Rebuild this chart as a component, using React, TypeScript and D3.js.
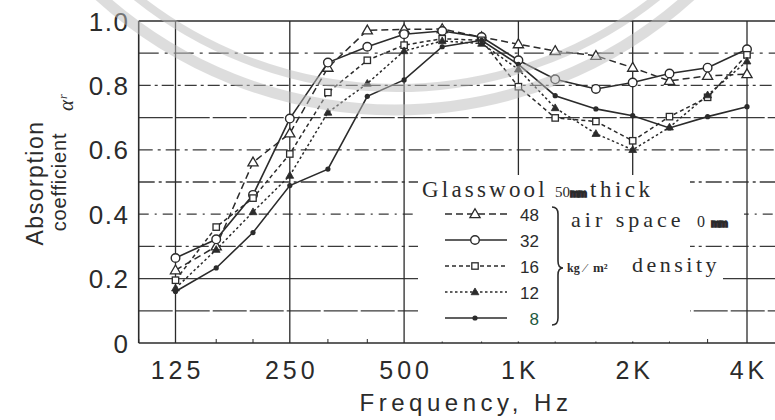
import React from "react";
import * as d3 from "d3";

// ---- data ----
const freqs = [125, 160, 200, 250, 315, 400, 500, 630, 800, 1000, 1250, 1600, 2000, 2500, 3150, 4000];
const density48 = [0.226, 0.30, 0.561, 0.651, 0.855, 0.971, 0.974, 0.975, 0.95, 0.928, 0.907, 0.892, 0.855, 0.814, 0.83, 0.835];
const density32 = [0.264, 0.322, 0.46, 0.697, 0.871, 0.92, 0.959, 0.969, 0.95, 0.878, 0.819, 0.789, 0.809, 0.837, 0.855, 0.912];
const density16 = [0.195, 0.36, 0.45, 0.587, 0.778, 0.878, 0.925, 0.945, 0.94, 0.796, 0.699, 0.688, 0.628, 0.703, 0.763, 0.895];
const density12 = [0.17, 0.29, 0.407, 0.52, 0.716, 0.806, 0.907, 0.938, 0.93, 0.85, 0.73, 0.65, 0.60, 0.67, 0.77, 0.875];
const density8 = [0.16, 0.233, 0.343, 0.489, 0.54, 0.766, 0.817, 0.92, 0.94, 0.865, 0.768, 0.727, 0.706, 0.668, 0.703, 0.734];
const seriesLabels = ["48", "32", "16", "12", "8"];
const majorFreqs = [125, 250, 500, 1000, 2000, 4000];
const majorLabels = ["125", "250", "500", "1K", "2K", "4K"];
const minorFreqs = [100, 160, 200, 315, 400, 630, 800, 1250, 1600, 2500, 3150, 5000];
const yTicks = [0, 0.2, 0.4, 0.6, 0.8, 1.0];
const yTickLabels = ["0", "0.2", "0.4", "0.6", "0.8", "1.0"];
const gridLevels = [0.1, 0.2, 0.3, 0.4, 0.5, 0.6, 0.7, 0.8, 0.9];

// ---- styles ----
const INK = "#2b2b2b";
const SANS = "'Liberation Sans', Arial, Helvetica, sans-serif";
const SERIF = "'Liberation Serif', 'Times New Roman', serif";
const gridDash: Record<string, string> = {
  "0.1": "34,3",
  "0.2": "none",
  "0.3": "16,4,3,4",
  "0.4": "10,6,2,6",
  "0.5": "16,4,3,4",
  "0.6": "14,5,3,5",
  "0.7": "34,3",
  "0.8": "12,4,3,4",
  "0.9": "20,6,3,6",
};
type Marker = "triOpen" | "circleOpen" | "squareOpen" | "triFilled" | "dotFilled";
const seriesStyle: { dash: string; marker: Marker; width: number }[] = [
  { dash: "7,4", marker: "triOpen", width: 1.5 },
  { dash: "none", marker: "circleOpen", width: 1.6 },
  { dash: "4,3", marker: "squareOpen", width: 1.5 },
  { dash: "2.5,2.5", marker: "triFilled", width: 1.5 },
  { dash: "none", marker: "dotFilled", width: 1.6 },
];

const W = 775;
const H = 420;
const x = d3.scaleLog().domain([125, 4000]).range([175.5, 747]);
const y = d3.scaleLinear().domain([0, 1]).range([343, 21]);
const xLeft = x(100);
const xRight = W;

function MarkerShape({ kind, cx, cy }: { kind: Marker; cx: number; cy: number }) {
  const tri = (s: number) =>
    `M${cx},${cy - s * 0.62} L${cx + s * 0.6},${cy + s * 0.42} L${cx - s * 0.6},${cy + s * 0.42} Z`;
  switch (kind) {
    case "triOpen":
      return <path d={tri(8.5)} fill="#fff" stroke={INK} strokeWidth={1.3} />;
    case "circleOpen":
      return <circle cx={cx} cy={cy} r={4.3} fill="#fff" stroke={INK} strokeWidth={1.4} />;
    case "squareOpen":
      return <rect x={cx - 3.2} y={cy - 3.2} width={6.4} height={6.4} fill="#fff" stroke={INK} strokeWidth={1.3} />;
    case "triFilled":
      return <path d={tri(6.5)} fill={INK} stroke={INK} strokeWidth={0.8} />;
    default:
      return <circle cx={cx} cy={cy} r={2.6} fill={INK} />;
  }
}

export default function App() {
  const allSeries = [density48, density32, density16, density12, density8];
  const line = d3
    .line<number>()
    .x((_, i) => x(freqs[i]))
    .y((v) => y(v));

  const legendRows = [214, 240, 266, 292, 318];

  return (
    <svg
      width={W}
      height={H}
      style={{ position: "absolute", left: 0, top: 0, background: "#fff" }}
      fontFamily={SANS}
    >
      <rect x={0} y={0} width={W} height={H} fill="#fff" />

      {/* horizontal grid */}
      {gridLevels.map((g) => (
        <line
          key={g}
          x1={xLeft}
          x2={xRight}
          y1={y(g)}
          y2={y(g)}
          stroke="#3a3a3a"
          strokeWidth={1.3}
          strokeDasharray={gridDash[g.toFixed(1)]}
        />
      ))}
      {/* top border */}
      <line x1={xLeft} x2={xRight} y1={y(1)} y2={y(1)} stroke={INK} strokeWidth={1.5} />
      {/* vertical grid */}
      {majorFreqs.map((f) => (
        <line key={f} x1={x(f)} x2={x(f)} y1={y(1)} y2={y(0)} stroke={INK} strokeWidth={1.3} />
      ))}
      {/* left axis & bottom axis */}
      <line x1={xLeft} x2={xLeft} y1={y(1)} y2={y(0)} stroke={INK} strokeWidth={1.6} />
      <line x1={xLeft} x2={xRight} y1={y(0)} y2={y(0)} stroke={INK} strokeWidth={1.6} />
      {minorFreqs.map((f) => (
        <line key={f} x1={x(f)} x2={x(f)} y1={y(0)} y2={y(0) - 4} stroke={INK} strokeWidth={1} />
      ))}

      {/* legend background (covers grid) */}
      <rect x={418} y={175} width={272} height={166.5} fill="#fff" />
      <rect x={686} y={205} width={58} height={26} fill="#fff" />
      <rect x={686} y={268} width={37} height={16} fill="#fff" />

      {/* data */}
      {allSeries.map((vals, si) => (
        <g key={si}>
          <path
            d={line(vals) || ""}
            fill="none"
            stroke={INK}
            strokeWidth={seriesStyle[si].width}
            strokeDasharray={seriesStyle[si].dash}
          />
          {vals.map((v, i) => (
            <MarkerShape key={i} kind={seriesStyle[si].marker} cx={x(freqs[i])} cy={y(v)} />
          ))}
        </g>
      ))}

      {/* y tick labels */}
      {yTicks.map((t, i) => (
        <text
          key={t}
          x={129.5}
          y={y(t) + 9.5}
          textAnchor="end"
          fontSize={26}
          letterSpacing={1.5}
          fill={INK}
        >
          {yTickLabels[i]}
        </text>
      ))}
      {/* x tick labels */}
      {majorFreqs.map((f, i) => (
        <text
          key={f}
          x={x(f) + 2}
          y={379}
          textAnchor="middle"
          fontSize={25}
          letterSpacing={4}
          fill={INK}
        >
          {majorLabels[i]}
        </text>
      ))}
      <text x={466} y={411} textAnchor="middle" fontSize={24} letterSpacing={4.5} fill={INK}>
        Frequency, Hz
      </text>

      {/* y title */}
      <text
        transform="translate(43,183) rotate(-90)"
        textAnchor="middle"
        fontSize={23}
        letterSpacing={1.5}
        fill={INK}
      >
        Absorption
      </text>
      <text
        transform="translate(66,182) rotate(-90)"
        textAnchor="middle"
        fontSize={20}
        letterSpacing={0.8}
        fill={INK}
      >
        coefficient
      </text>
      <text
        transform="translate(73,111) rotate(-90)"
        fontSize={21}
        fontStyle="italic"
        fontFamily={SERIF}
        fill={INK}
      >
        α<tspan fontSize={12} dy={-6} dx={1}>r</tspan>
      </text>

      {/* legend */}
      <text x={422} y={197} fontFamily={SERIF} fontSize={23} letterSpacing={3.2} fill={INK}>
        Glasswool
      </text>
      <text x={555} y={197} fontFamily={SERIF} fontSize={15} fill={INK}>
        50
      </text>
      <text x={570} y={197} fontFamily={SANS} fontSize={10} fontWeight={900} letterSpacing={-1} fill={INK} stroke={INK} strokeWidth={1.5}>
        mm
      </text>
      <text x={590} y={197} fontFamily={SERIF} fontSize={23} letterSpacing={3.5} fill={INK}>
        thick
      </text>

      {seriesLabels.map((lab, i) => (
        <g key={lab}>
          <line
            x1={445}
            x2={507}
            y1={legendRows[i]}
            y2={legendRows[i]}
            stroke={INK}
            strokeWidth={seriesStyle[i].width}
            strokeDasharray={seriesStyle[i].dash}
          />
          <MarkerShape kind={seriesStyle[i].marker} cx={475} cy={legendRows[i]} />
          <text
            x={539}
            y={legendRows[i] + 6.5}
            textAnchor="end"
            fontFamily={SANS}
            fontSize={17}
            fill={lab === "8" ? "#1d5a3e" : INK}
          >
            {lab}
          </text>
        </g>
      ))}
      <path
        d="M552,207 Q558,207 558,214 L558,261 Q558,268 563,268 Q558,268 558,275 L558,318 Q558,325 552,325"
        fill="none"
        stroke={INK}
        strokeWidth={1.6}
      />
      <text x={571} y={227} fontFamily={SERIF} fontSize={22} letterSpacing={4} fill={INK}>
        air space
      </text>
      <text x={697} y={227} fontFamily={SERIF} fontSize={16} fill={INK}>
        0
      </text>
      <text x={711} y={227} fontFamily={SANS} fontSize={10} fontWeight={900} letterSpacing={-1} fill={INK} stroke={INK} strokeWidth={1.5}>
        mm
      </text>
      <text x={567} y={272} fontFamily={SERIF} fontSize={12} fontWeight={700} fill={INK}>
        kg
      </text>
      <text x={584} y={272} fontFamily={SERIF} fontSize={13} fill={INK}>
        ⁄
      </text>
      <text x={593} y={272} fontFamily={SERIF} fontSize={13} fontWeight={700} fill={INK}>
        m²
      </text>
      <text x={632} y={272} fontFamily={SERIF} fontSize={22} letterSpacing={3.5} fill={INK}>
        density
      </text>

      {/* watermark rings */}
      <g fill="none" stroke="#bdbdbd" opacity={0.5}>
        <circle cx={395} cy={-330} r={440} strokeWidth={11} />
        <circle cx={397} cy={-330} r={418} strokeWidth={8} />
      </g>
    </svg>
  );
}
